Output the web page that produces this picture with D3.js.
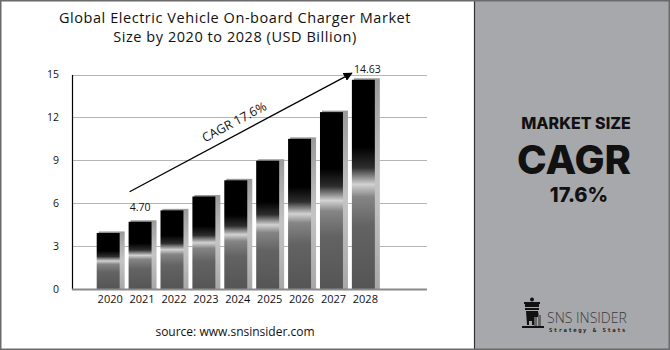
<!DOCTYPE html>
<html><head><meta charset="utf-8">
<script src="https://cdn.jsdelivr.net/npm/d3@7"></script>
<style>
html,body{margin:0;padding:0;background:#fff;}
svg{display:block;}
</style></head>
<body>
<svg id="chart" width="670" height="350"></svg>
<script>
const years = ["2020","2021","2022","2023","2024","2025","2026","2027","2028"];
const values = [3.92, 4.70, 5.50, 6.47, 7.60, 8.97, 10.50, 12.37, 14.63];
const yTicks = [0, 3, 6, 9, 12, 15];
const titleLines = ["Global Electric Vehicle On-board Charger Market", "Size by 2020 to 2028 (USD Billion)"];
const valueLabels = [{year:"2021", value:4.70, text:"4.70"}, {year:"2028", value:14.63, text:"14.63"}];
const cagrText = "CAGR 17.6%";
const arrowFrom = {year:"2021", value:6.8};
const arrowTo = {year:"2028", value:15.1};
const panelLines = ["MARKET SIZE", "CAGR", "17.6%"];
const sourceText = "source: www.snsinsider.com";

const svg = d3.select("#chart");
const W = 670, H = 350;
const font = "'Open Sans', sans-serif";

const defs = svg.append("defs");
const g1 = defs.append("linearGradient").attr("id","barGrad").attr("x1",0).attr("y1",0).attr("x2",0).attr("y2",1);
[[0,"#000"],[0.32,"#000"],[0.42,"#2e2e2e"],[0.5,"#d2d2d2"],[0.56,"#858585"],[0.7,"#636363"],[1,"#555"]]
  .forEach(([o,c])=>g1.append("stop").attr("offset",o).attr("stop-color",c));
const g2 = defs.append("linearGradient").attr("id","shadowGrad").attr("x1",0).attr("y1",0).attr("x2",0).attr("y2",1);
[[0,"#9a9a9a"],[0.5,"#c4c4c4"],[1,"#a8a8a8"]]
  .forEach(([o,c])=>g2.append("stop").attr("offset",o).attr("stop-color",c));
defs.append("marker").attr("id","arrow").attr("viewBox","0 0 10 10").attr("refX",9).attr("refY",5)
  .attr("markerWidth",9).attr("markerHeight",9).attr("markerUnits","userSpaceOnUse").attr("orient","auto")
  .append("path").attr("d","M0,0 L10,5 L0,10 Z").attr("fill","#000");

svg.append("rect").attr("x",0).attr("y",0).attr("width",W).attr("height",H).attr("fill","#fff");

// right panel
svg.append("rect").attr("x",474).attr("y",0).attr("width",W-474).attr("height",H).attr("fill","#a7a8ab");
svg.append("line").attr("x1",474.5).attr("x2",474.5).attr("y1",0).attr("y2",H).attr("stroke","#333").attr("stroke-width",1.2);

// scales
const x = d3.scaleBand().domain(years).range([80.75, 390.8]).paddingInner(0.28).paddingOuter(0.5);
const y = d3.scaleLinear().domain([0,15]).range([289, 74.5]);
const axisLeftX = 72, gridRight = 427;

svg.append("g").selectAll("line").data(yTicks.filter(d=>d>0)).join("line")
  .attr("x1",axisLeftX).attr("x2",gridRight).attr("y1",d=>Math.round(y(d))+0.5).attr("y2",d=>Math.round(y(d))+0.5)
  .attr("stroke","#b5b5b5").attr("stroke-width",1);

const yAxis = svg.append("g").attr("transform",`translate(${axisLeftX},0)`)
  .call(d3.axisLeft(y).tickValues(yTicks).tickSize(0).tickPadding(13));
yAxis.select(".domain").attr("stroke","#000").attr("stroke-width",1.2);
yAxis.selectAll("text").attr("font-family",font).attr("font-size",10.5).attr("fill","#111");

const bw = x.bandwidth();
const bars = svg.append("g");
bars.selectAll("rect.sh").data(years).join("rect").attr("class","sh")
  .attr("x",d=>x(d)+2).attr("y",(d,i)=>y(values[i])-1.5)
  .attr("width",bw+3).attr("height",(d,i)=>y(0)-y(values[i])+1.5)
  .attr("fill","url(#shadowGrad)");
bars.selectAll("rect.bar").data(years).join("rect").attr("class","bar")
  .attr("x",d=>x(d)).attr("y",(d,i)=>y(values[i]))
  .attr("width",bw).attr("height",(d,i)=>y(0)-y(values[i]))
  .attr("fill","url(#barGrad)");

svg.append("line").attr("x1",axisLeftX).attr("x2",gridRight).attr("y1",y(0)+0.5).attr("y2",y(0)+0.5)
  .attr("stroke","#8a8a8a").attr("stroke-width",2);
const xAxis = svg.append("g").attr("transform",`translate(0,${y(0)})`)
  .call(d3.axisBottom(x).tickSize(0).tickPadding(6));
xAxis.select(".domain").remove();
xAxis.selectAll("text").attr("font-family",font).attr("font-size",11).attr("fill","#111").attr("dx", 2);

svg.append("g").selectAll("text").data(valueLabels).join("text")
  .attr("x",d=>x(d.year)+bw/2 + (d.year==="2028"?4:0))
  .attr("y",d=>y(d.value)-(d.year==="2028"?7:11))
  .attr("text-anchor","middle").attr("font-family",font).attr("font-size",10.5).attr("fill","#111")
  .text(d=>d.text);

const ax1 = x(arrowFrom.year)+1, ay1 = y(arrowFrom.value);
const ax2 = x(arrowTo.year), ay2 = y(arrowTo.value);
svg.append("line").attr("x1",ax1).attr("y1",ay1).attr("x2",ax2).attr("y2",ay2)
  .attr("stroke","#000").attr("stroke-width",1.3).attr("marker-end","url(#arrow)");
const ang = Math.atan2(ay2-ay1, ax2-ax1)*180/Math.PI;
const mx = 240, my = ay1 + (ay2-ay1)*(mx-ax1)/(ax2-ax1);
svg.append("text").attr("transform",`translate(${mx},${my}) rotate(${ang}) translate(0,-8)`)
  .attr("text-anchor","middle").attr("font-family",font).attr("font-size",12.5).attr("fill","#111")
  .text(cagrText);

svg.append("g").selectAll("text").data(titleLines).join("text")
  .attr("x",235).attr("y",(d,i)=>22.5+i*19.5).attr("text-anchor","middle")
  .attr("font-family",font).attr("font-size",14.5).attr("font-weight",500).attr("letter-spacing",0.55)
  .attr("fill","#111").text(d=>d);

svg.append("text").attr("x",235).attr("y",336).attr("text-anchor","middle")
  .attr("font-family",font).attr("font-size",12).attr("fill","#111").text(sourceText);

const pf = "Inter, 'Open Sans', sans-serif";
svg.append("text").attr("x",576).attr("y",129).attr("text-anchor","middle").attr("font-family",pf)
  .attr("font-weight",800).attr("font-size",16).attr("fill","#111").text(panelLines[0]);
svg.append("text").attr("x",574).attr("y",173.5).attr("text-anchor","middle").attr("font-family",pf)
  .attr("font-weight",800).attr("font-size",40).attr("fill","#111").text(panelLines[1]);
svg.append("text").attr("x",579).attr("y",202).attr("text-anchor","middle").attr("font-family",pf)
  .attr("font-weight",800).attr("font-size",20).attr("fill","#111").text(panelLines[2]);

const logo = svg.append("g").attr("transform","translate(521,297)");
logo.append("circle").attr("cx",11).attr("cy",2.5).attr("r",2).attr("fill","#111");
logo.append("path").attr("d","M3,5 h16 v2 h-1 v3 h-14 v-3 h-1 z").attr("fill","#111");
logo.append("path").attr("d","M4,11 h14 v2 h-14 z").attr("fill","#111");
logo.append("path").attr("d","M5,14 h12 l1,6 h-4 v8 h-3 v-4 h-3 v4 h-2 z").attr("fill","#111");
logo.append("path").attr("d","M13,20 h3 v9 h-3 z M17,18 h3 v11 h-3 z").attr("fill","#666");
logo.append("path").attr("d","M1,29 h22 v2 h-22 z").attr("fill","#111");
svg.append("text").attr("x",547).attr("y",322.5).attr("font-family","'Open Sans', sans-serif")
  .attr("font-weight",300).attr("font-size",14).attr("fill","#3a3a3a").text("SNS INSIDER");
svg.append("text").attr("x",549).attr("y",332).attr("font-family","'DejaVu Sans Mono', monospace")
  .attr("font-weight",700).attr("font-size",5.6).attr("letter-spacing",1.5).attr("fill","#222").text("Strategy & Stats");

svg.append("rect").attr("x",0.75).attr("y",0.75).attr("width",W-1.5).attr("height",H-1.5)
  .attr("fill","none").attr("stroke","#6b6b6b").attr("stroke-width",1.5);
</script>
</body></html>
